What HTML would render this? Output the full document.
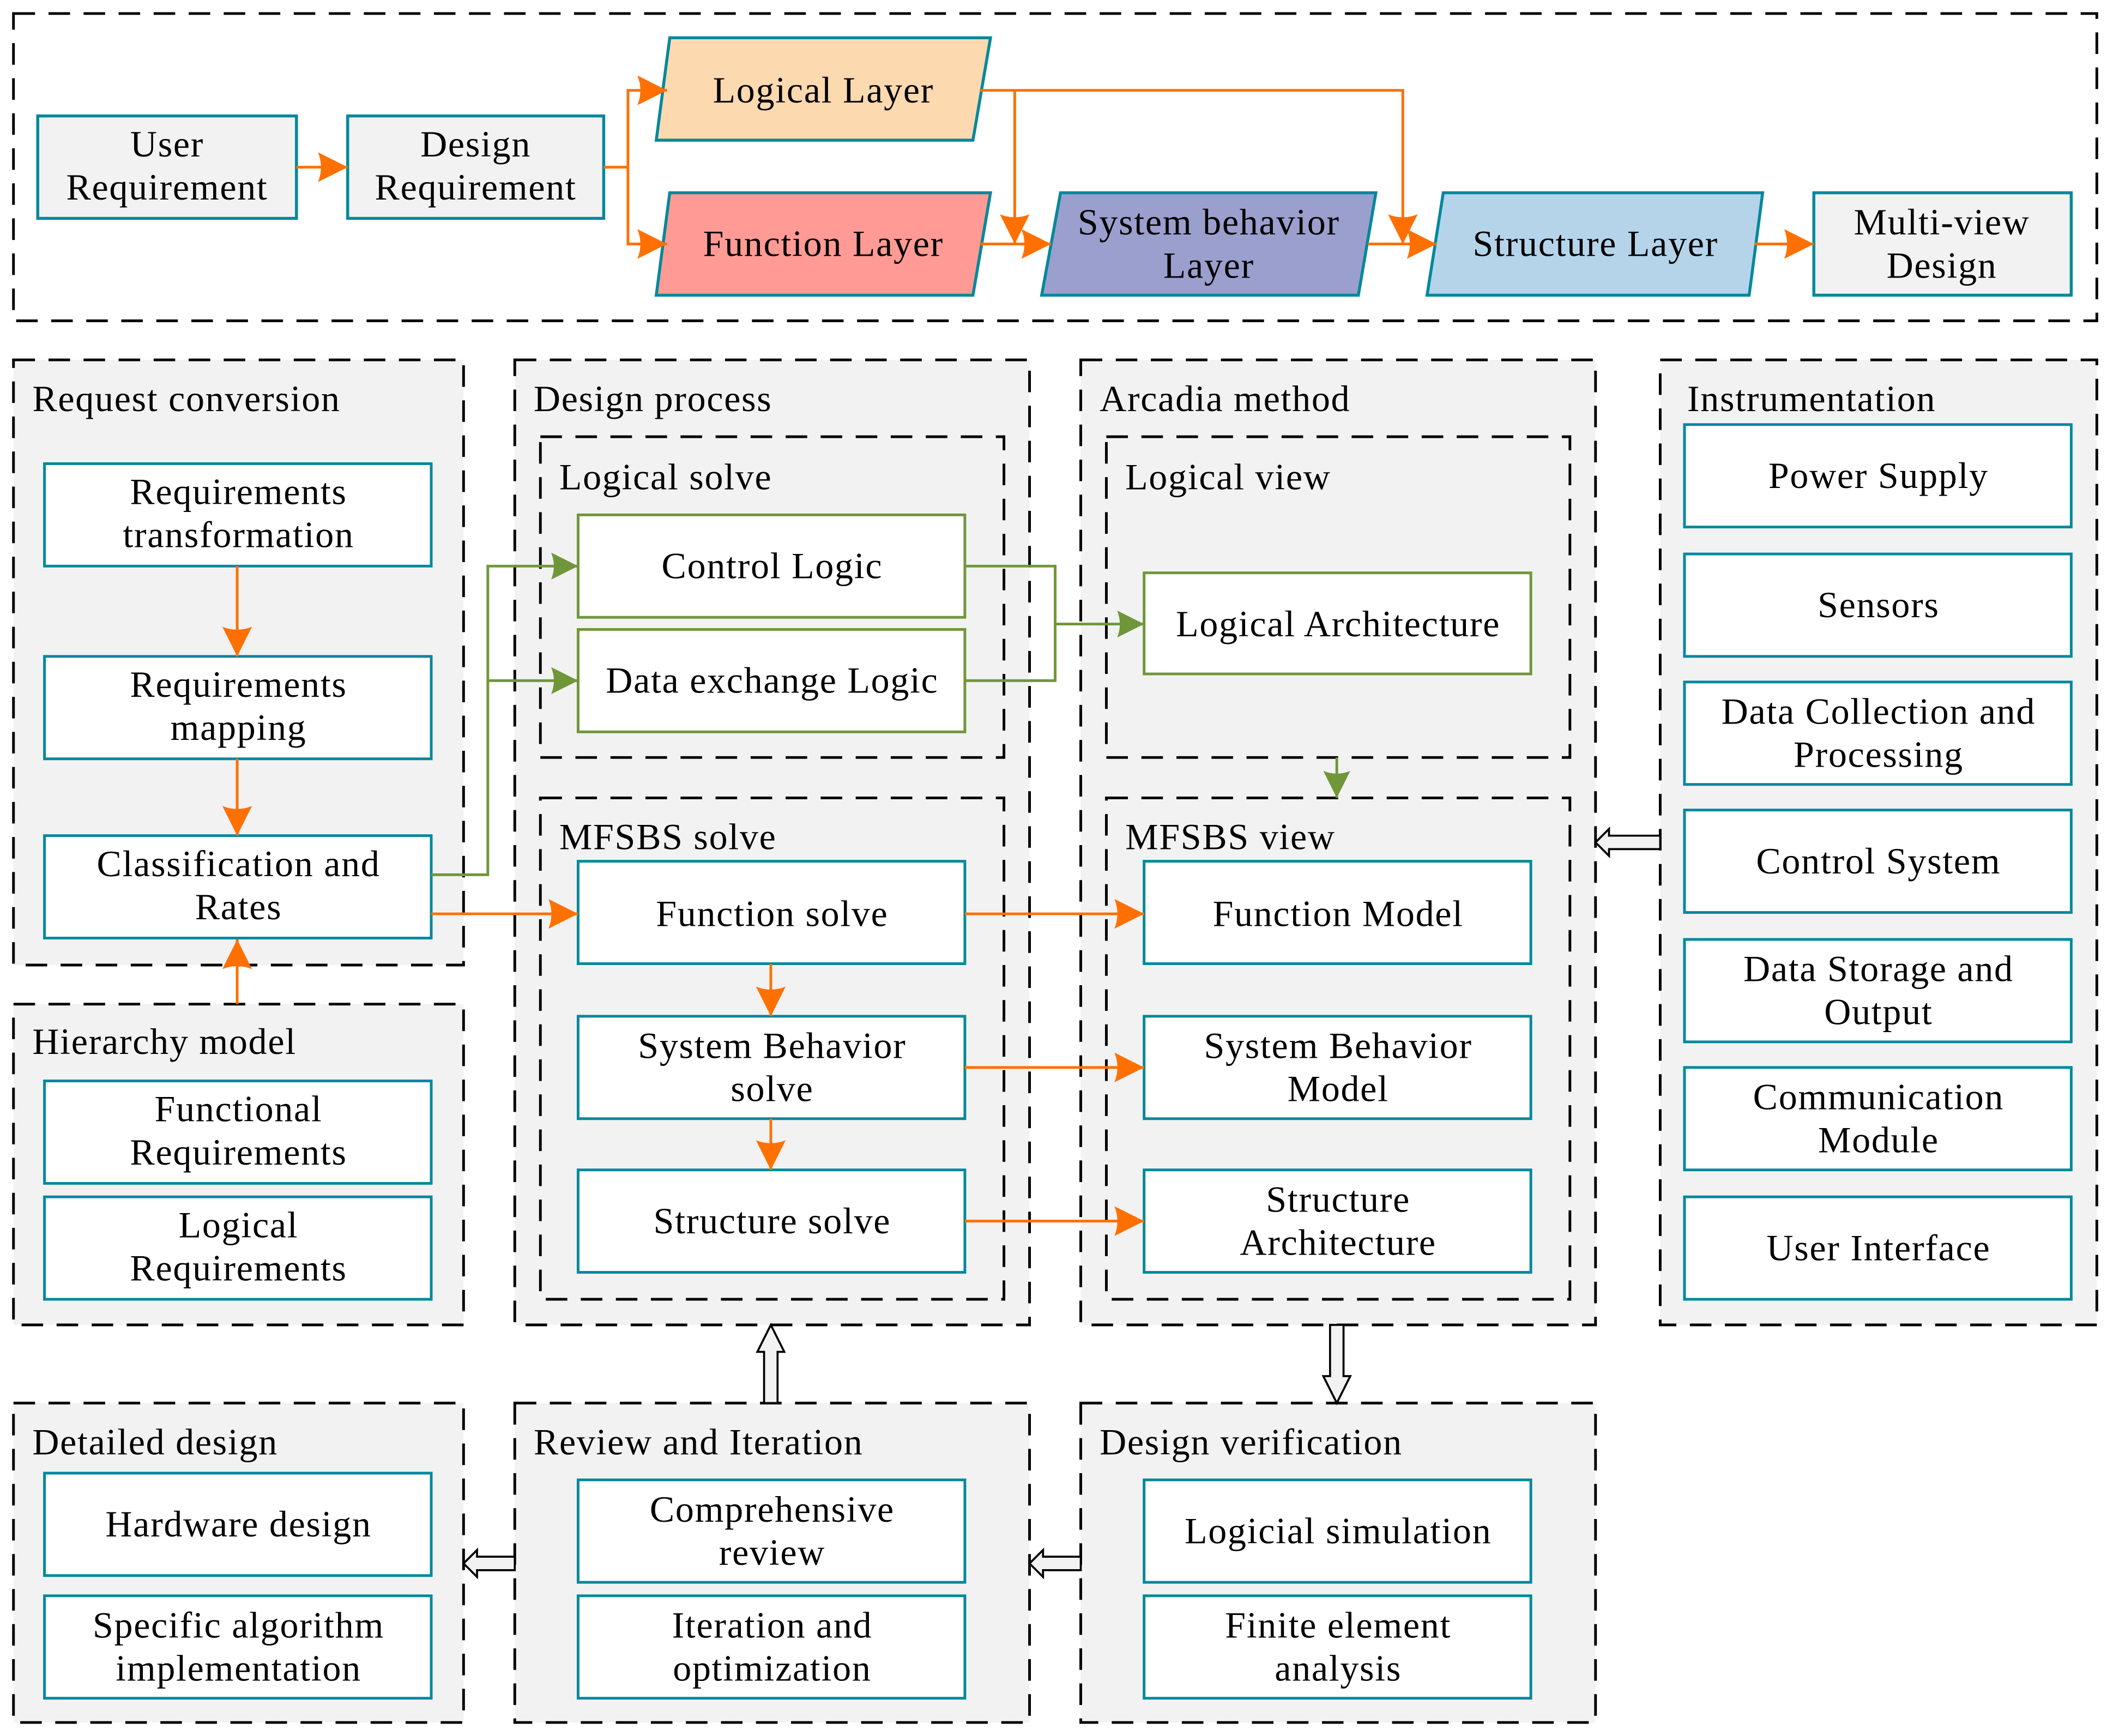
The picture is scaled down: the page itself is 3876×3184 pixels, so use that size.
<!DOCTYPE html>
<html><head><meta charset="utf-8"><style>
html,body{margin:0;padding:0;background:#fff}
svg{display:block}
text{font-family:"Liberation Serif",serif;font-size:27.5px;letter-spacing:0.7px;fill:#000}
</style></head><body>
<svg width="3876" height="3184" viewBox="0 0 1568 1288" xmlns="http://www.w3.org/2000/svg">
<defs>
<marker id="ao" viewBox="0 0 20 20" refX="20" refY="10" markerWidth="22" markerHeight="22" markerUnits="userSpaceOnUse" orient="auto"><path d="M0,0 L20,10 L0,20 Q4,10 0,0Z" fill="#ff7000"/></marker>
<marker id="ag" viewBox="0 0 20 20" refX="20" refY="10" markerWidth="20" markerHeight="20" markerUnits="userSpaceOnUse" orient="auto"><path d="M0,0 L20,10 L0,20 Q4,10 0,0Z" fill="#70963a"/></marker>
</defs>
<g fill="none" stroke="#000" stroke-width="2" stroke-dasharray="16,10">
<rect x="10" y="10" width="1546" height="228" fill="#fff"/>
<rect x="10" y="267" width="334" height="449" fill="#f2f2f2"/>
<rect x="10" y="745" width="334" height="238" fill="#f2f2f2"/>
<rect x="382" y="267" width="382" height="716" fill="#f2f2f2"/>
<rect x="401" y="324" width="344" height="238" fill="#f2f2f2"/>
<rect x="401" y="592" width="344" height="372" fill="#f2f2f2"/>
<rect x="802" y="267" width="382" height="716" fill="#f2f2f2"/>
<rect x="821" y="324" width="344" height="238" fill="#f2f2f2"/>
<rect x="821" y="592" width="344" height="372" fill="#f2f2f2"/>
<rect x="1232" y="267" width="324" height="716" fill="#f2f2f2"/>
<rect x="10" y="1041" width="334" height="237" fill="#f2f2f2"/>
<rect x="382" y="1041" width="382" height="237" fill="#f2f2f2"/>
<rect x="802" y="1041" width="382" height="237" fill="#f2f2f2"/>
</g>
<g stroke="#00889c" stroke-width="2.2">
<rect x="28" y="86" width="192" height="76" fill="#f2f2f2"/>
<rect x="258" y="86" width="190" height="76" fill="#f2f2f2"/>
<polygon points="497,28 735,28 722,104 487,104" fill="#fdd9b0"/>
<polygon points="497,143 735,143 722,219 487,219" fill="#ff9b94"/>
<polygon points="787,143 1021,143 1008,219 773,219" fill="#9b9fce"/>
<polygon points="1071,143 1308,143 1298,219 1059,219" fill="#b5d4ea"/>
<rect x="1346" y="143" width="191" height="76" fill="#f2f2f2"/>
</g>
<g stroke="#00889c" stroke-width="2" fill="#fff">
<rect x="33" y="344" width="287" height="76"/><rect x="33" y="487" width="287" height="76"/><rect x="33" y="620" width="287" height="76"/>
<rect x="33" y="802" width="287" height="76"/><rect x="33" y="888" width="287" height="76"/>
<rect x="429" y="639" width="287" height="76"/><rect x="429" y="754" width="287" height="76"/><rect x="429" y="868" width="287" height="76"/>
<rect x="849" y="639" width="287" height="76"/><rect x="849" y="754" width="287" height="76"/><rect x="849" y="868" width="287" height="76"/>
<rect x="1250" y="315" width="287" height="76"/><rect x="1250" y="411" width="287" height="76"/><rect x="1250" y="506" width="287" height="76"/><rect x="1250" y="601" width="287" height="76"/><rect x="1250" y="697" width="287" height="76"/><rect x="1250" y="792" width="287" height="76"/><rect x="1250" y="888" width="287" height="76"/>
<rect x="33" y="1093" width="287" height="76"/><rect x="33" y="1184" width="287" height="76"/>
<rect x="429" y="1098" width="287" height="76"/><rect x="429" y="1184" width="287" height="76"/>
<rect x="849" y="1098" width="287" height="76"/><rect x="849" y="1184" width="287" height="76"/>
</g>
<g stroke="#70963a" stroke-width="2" fill="#fff">
<rect x="429" y="382" width="287" height="76"/><rect x="429" y="467" width="287" height="76"/>
<rect x="849" y="425" width="287" height="75"/>
</g>
<g stroke="#ff7000" stroke-width="2" fill="none">
<line x1="220" y1="124" x2="258" y2="124" marker-end="url(#ao)"/>
<polyline points="448,124 466,124 466,67 495,67" marker-end="url(#ao)"/>
<polyline points="466,124 466,181 495,181" marker-end="url(#ao)"/>
<line x1="727" y1="181" x2="780" y2="181" marker-end="url(#ao)"/>
<line x1="1015" y1="181" x2="1066" y2="181" marker-end="url(#ao)"/>
<line x1="1302" y1="181" x2="1346" y2="181" marker-end="url(#ao)"/>
<polyline points="727,67 1041,67 1041,181" marker-end="url(#ao)"/>
<line x1="753" y1="67" x2="753" y2="181" marker-end="url(#ao)"/>
<line x1="176" y1="420" x2="176" y2="487" marker-end="url(#ao)"/>
<line x1="176" y1="563" x2="176" y2="620" marker-end="url(#ao)"/>
<line x1="176" y1="745" x2="176" y2="697" marker-end="url(#ao)"/>
<line x1="320" y1="678" x2="429" y2="678" marker-end="url(#ao)"/>
<line x1="716" y1="678" x2="849" y2="678" marker-end="url(#ao)"/>
<line x1="716" y1="792" x2="849" y2="792" marker-end="url(#ao)"/>
<line x1="716" y1="906" x2="849" y2="906" marker-end="url(#ao)"/>
<line x1="572" y1="715" x2="572" y2="754" marker-end="url(#ao)"/>
<line x1="572" y1="830" x2="572" y2="868" marker-end="url(#ao)"/>
</g>
<g stroke="#70963a" stroke-width="2" fill="none">
<polyline points="320,649 362,649 362,420 429,420" marker-end="url(#ag)"/>
<polyline points="362,505 429,505" marker-end="url(#ag)"/>
<polyline points="716,420 783,420 783,505 716,505"/>
<line x1="783" y1="463" x2="849" y2="463" marker-end="url(#ag)"/>
<line x1="992" y1="562" x2="992" y2="592" marker-end="url(#ag)"/>
</g>
<g stroke="#000" stroke-width="1.5" fill="#f2f2f2">
<polygon points="1232,620 1194,620 1194,615 1184,625 1194,635 1194,630 1232,630"/>
<polygon points="567,1041 567,1003 562,1003 572,983 582,1003 577,1003 577,1041"/>
<polygon points="987,983 987,1021 982,1021 992,1041 1002,1021 997,1021 997,983"/>
<polygon points="802,1155 774,1155 774,1150 764,1160 774,1170 774,1165 802,1165"/>
<polygon points="382,1155 354,1155 354,1150 344,1160 354,1170 354,1165 382,1165"/>
</g>
<g text-anchor="middle">
<text x="124" y="116">User</text><text x="124" y="148">Requirement</text>
<text x="353" y="116">Design</text><text x="353" y="148">Requirement</text>
<text x="611" y="76">Logical Layer</text>
<text x="611" y="190">Function Layer</text>
<text x="897" y="174">System behavior</text><text x="897" y="206">Layer</text>
<text x="1184" y="190">Structure Layer</text>
<text x="1441" y="174">Multi-view</text><text x="1441" y="206">Design</text>
<text x="177" y="374">Requirements</text><text x="177" y="406">transformation</text>
<text x="177" y="517">Requirements</text><text x="177" y="549">mapping</text>
<text x="177" y="650">Classification and</text><text x="177" y="682">Rates</text>
<text x="177" y="832">Functional</text><text x="177" y="864">Requirements</text>
<text x="177" y="918">Logical</text><text x="177" y="950">Requirements</text>
<text x="573" y="429">Control Logic</text>
<text x="573" y="514">Data exchange Logic</text>
<text x="573" y="687">Function solve</text>
<text x="573" y="785">System Behavior</text><text x="573" y="817">solve</text>
<text x="573" y="915">Structure solve</text>
<text x="993" y="472">Logical Architecture</text>
<text x="993" y="687">Function Model</text>
<text x="993" y="785">System Behavior</text><text x="993" y="817">Model</text>
<text x="993" y="899">Structure</text><text x="993" y="931">Architecture</text>
<text x="1394" y="362">Power Supply</text>
<text x="1394" y="458">Sensors</text>
<text x="1394" y="537">Data Collection and</text><text x="1394" y="569">Processing</text>
<text x="1394" y="648">Control System</text>
<text x="1394" y="728">Data Storage and</text><text x="1394" y="760">Output</text>
<text x="1394" y="823">Communication</text><text x="1394" y="855">Module</text>
<text x="1394" y="935">User Interface</text>
<text x="177" y="1140">Hardware design</text>
<text x="177" y="1215">Specific algorithm</text><text x="177" y="1247">implementation</text>
<text x="573" y="1129">Comprehensive</text><text x="573" y="1161">review</text>
<text x="573" y="1215">Iteration and</text><text x="573" y="1247">optimization</text>
<text x="993" y="1145">Logicial simulation</text>
<text x="993" y="1215">Finite element</text><text x="993" y="1247">analysis</text>
</g>
<g>
<text x="24" y="305">Request conversion</text>
<text x="24" y="782">Hierarchy model</text>
<text x="396" y="305">Design process</text>
<text x="415" y="363">Logical solve</text>
<text x="415" y="630">MFSBS solve</text>
<text x="816" y="305">Arcadia method</text>
<text x="835" y="363">Logical view</text>
<text x="835" y="630">MFSBS view</text>
<text x="1252" y="305">Instrumentation</text>
<text x="24" y="1079">Detailed design</text>
<text x="396" y="1079">Review and Iteration</text>
<text x="816" y="1079">Design verification</text>
</g>
</svg>
</body></html>
